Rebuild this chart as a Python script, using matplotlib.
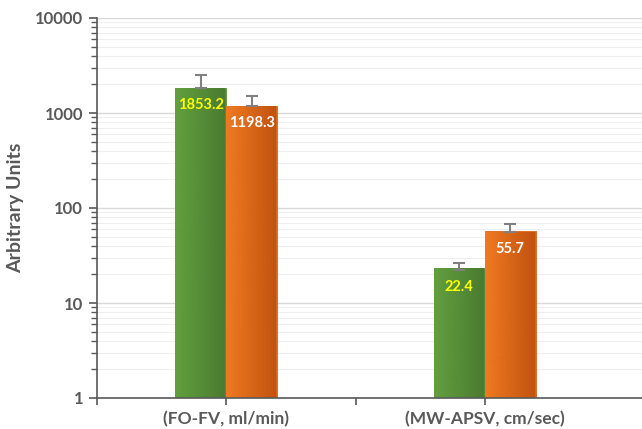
import numpy as np
import matplotlib
matplotlib.use("Agg")
import matplotlib.pyplot as plt
from matplotlib.colors import LinearSegmentedColormap
from matplotlib.ticker import LogLocator, FixedLocator, NullFormatter

categories = ["(FO-FV, ml/min)", "(MW-APSV, cm/sec)"]
series_green = [1853.2, 22.4]
series_orange = [1198.3, 55.7]
err_green = [660, 4.2]
err_orange = [312, 12]
ytick_labels = ["1", "10", "100", "1000", "10000"]

plt.rcParams['font.family'] = ['Lato', 'DejaVu Sans']
FW = 'bold'

fig = plt.figure(figsize=(6.42, 4.29), dpi=100)
ax = fig.add_axes([97/642, (429-398)/429, 1 - 97/642, (398-18)/429])
ax.set_yscale('log')
ax.set_ylim(1, 10000)
ax.set_xlim(-0.498, 1.608)

x = np.arange(len(categories))
w = 0.197
gray = '#595959'

green_cmap = LinearSegmentedColormap.from_list('g', ['#62a03f', '#4a7a30'])
orange_cmap = LinearSegmentedColormap.from_list('o', ['#f07a22', '#c0520f'])
grad = np.linspace(0, 1, 64).reshape(1, -1)

def grad_bars(xs, vals, cmap, base):
    ax.bar(xs, vals, width=w, bottom=1, color=base, edgecolor=base, linewidth=0.6, zorder=2.4)
    bars = ax.bar(xs, vals, width=w, bottom=1, color='none', edgecolor='none', zorder=3)
    for b in bars:
        x0 = b.get_x(); x1 = x0 + b.get_width()
        top = b.get_y() + b.get_height()
        im = ax.imshow(grad, cmap=cmap, aspect='auto', extent=(x0, x1, 1, top),
                       origin='lower', zorder=2.5, interpolation='bicubic')
        im.set_clip_path(b)
    return bars

grad_bars(x - w/2, series_green, green_cmap, '#558c37')
grad_bars(x + w/2, series_orange, orange_cmap, '#d86418')

ax.errorbar(x - w/2, series_green, yerr=[np.zeros(2), err_green], fmt='none',
            ecolor='#808080', elinewidth=1.5, capsize=4, capthick=1.5, zorder=4)
ax.errorbar(x + w/2, series_orange, yerr=[np.zeros(2), err_orange], fmt='none',
            ecolor='#808080', elinewidth=1.5, capsize=4, capthick=1.5, zorder=4)

for xi, v in zip(x - w/2, series_green):
    ax.text(xi, v * 0.78, f"{v:.1f}", ha='center', va='top', color='#ffff00',
            fontsize=10.5, fontweight=FW, zorder=5)
for xi, v in zip(x + w/2, series_orange):
    ax.text(xi, v * 0.78, f"{v:.1f}", ha='center', va='top', color='white',
            fontsize=10.5, fontweight=FW, zorder=5)

ax.yaxis.set_major_locator(FixedLocator([1, 10, 100, 1000, 10000]))
ax.set_yticklabels(ytick_labels)
ax.yaxis.set_minor_locator(LogLocator(base=10, subs=np.arange(2, 10), numticks=20))
ax.yaxis.set_minor_formatter(NullFormatter())
ax.grid(which='major', axis='y', color='#d9d9d9', linewidth=1.0, zorder=0)
ax.grid(which='minor', axis='y', color='#eeeeee', linewidth=0.8, zorder=0)
ax.set_axisbelow(True)

ax.set_xticks([-0.5, 0, 0.5, 1])
ax.set_xticklabels(["", categories[0], "", categories[1]])
ax.tick_params(axis='x', direction='out', length=5, width=1.2, color='#595959',
               labelsize=12.5, labelcolor=gray, pad=4)
for lab in ax.get_xticklabels():
    lab.set_fontweight(FW)
ax.tick_params(axis='y', which='major', direction='out', length=6, width=1.2,
               color='#595959', labelsize=12, labelcolor=gray, pad=4)
ax.tick_params(axis='y', which='minor', direction='out', length=4, width=1.0, color='#595959')
for lab in ax.get_yticklabels():
    lab.set_fontweight(FW)

for s in ['top', 'right']:
    ax.spines[s].set_visible(False)
ax.spines['left'].set_color('#595959')
ax.spines['bottom'].set_color('#595959')
ax.spines['left'].set_linewidth(1.2)
ax.spines['bottom'].set_linewidth(1.2)

fig.text(16/642, 1 - 208/429, "Arbitrary Units", rotation=90, ha='center', va='center',
         fontsize=14, fontweight=FW, color=gray)

fig.savefig("out.png", dpi=100)
